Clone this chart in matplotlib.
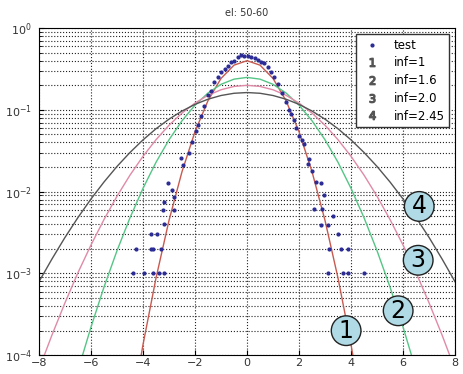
import matplotlib
matplotlib.use('Agg')
import matplotlib.pyplot as plt
from matplotlib.lines import Line2D

# measured test points
test_x = [-4.38, -3.96, -3.6, -3.4, -3.2, -4.27, -3.7, -3.6, -3.3, -3.7, -3.46,
          -3.19, -3.23, -2.8, -3.2, -2.8, -2.9, -3.04, -2.46, -2.54, -2.23,
          -2.1, -1.96, -1.9, -1.77, -1.65, -1.5, -1.38, -1.27, -1.1, -1.0,
          -0.85, -0.73, -0.6, -0.5, -0.35, -0.23, -0.1, 0.04, 0.15, 0.3, 0.42,
          0.55, 0.65, 0.8, 0.92, 1.05, 1.2, 1.35, 1.5, 1.6, 1.7, 1.8, 1.88,
          2.0, 2.1, 2.2, 2.35, 2.4, 2.5, 2.65, 2.85, 2.96, 2.58, 2.9, 3.3,
          2.85, 3.1, 3.5, 3.15, 3.6, 3.9, 3.1, 3.7, 3.9, 4.5]
test_y = [1e-3, 1e-3, 1e-3, 1e-3, 1e-3, 2e-3, 2e-3, 2e-3, 2e-3, 3e-3, 3e-3,
          4e-3, 6e-3, 6e-3, 7.5e-3, 8.7e-3, 1.05e-2, 1.26e-2, 2.1e-2, 2.6e-2, 3.0e-2,
          4.0e-2, 5.5e-2, 6.5e-2, 8.5e-2, 0.11, 0.15, 0.17, 0.22, 0.25, 0.29,
          0.32, 0.34, 0.39, 0.40, 0.44, 0.47, 0.46, 0.45, 0.44, 0.43, 0.41,
          0.39, 0.37, 0.33, 0.29, 0.25, 0.21, 0.16, 0.125, 0.10, 0.09, 0.075, 0.06,
          0.048, 0.043, 0.038, 0.022, 0.025, 0.018, 0.013, 0.0126, 0.009, 0.0062, 0.0062, 0.005,
          0.0039, 0.0039, 0.003, 0.002, 0.002, 0.002, 1e-3, 1e-3, 1e-3, 1e-3]

# fitted curves, values read at 0.5 steps
cx1 = [-4.5, -4.0, -3.5, -3.0, -2.5, -2.0, -1.5, -1.0, -0.5, 0.0,
       0.5, 1.0, 1.5, 2.0, 2.5, 3.0, 3.5, 4.0, 4.5]
cy1 = [1.6e-5, 1.34e-4, 8.73e-4, 4.43e-3, 0.0175, 0.054, 0.1295, 0.242, 0.352, 0.399,
       0.352, 0.242, 0.1295, 0.054, 0.0175, 4.43e-3, 8.73e-4, 1.34e-4, 1.6e-5]

cx2 = [-7.0, -6.5, -6.0, -5.5, -5.0, -4.5, -4.0, -3.5, -3.0, -2.5, -2.0, -1.5, -1.0, -0.5, 0.0,
       0.5, 1.0, 1.5, 2.0, 2.5, 3.0, 3.5, 4.0, 4.5, 5.0, 5.5, 6.0, 6.5, 7.0]
cy2 = [1.7e-5, 6.5e-5, 2.2e-4, 6.78e-4, 1.89e-3, 4.78e-3, 0.01095, 0.0228, 0.043, 0.0735,
       0.1141, 0.1607, 0.2051, 0.2374, 0.2493,
       0.2374, 0.2051, 0.1607, 0.1141, 0.0735, 0.043, 0.0228, 0.01095, 4.78e-3,
       1.89e-3, 6.78e-4, 2.2e-4, 6.5e-5, 1.7e-5]

cx3 = [-8.0, -7.5, -7.0, -6.5, -6.0, -5.5, -5.0, -4.5, -4.0, -3.5, -3.0, -2.5, -2.0, -1.5, -1.0, -0.5, 0.0,
       0.5, 1.0, 1.5, 2.0, 2.5, 3.0, 3.5, 4.0, 4.5, 5.0, 5.5, 6.0, 6.5, 7.0, 7.5, 8.0]
cy3 = [6.7e-5, 1.76e-4, 4.36e-4, 1.02e-3, 2.22e-3, 4.55e-3, 8.77e-3, 0.0159, 0.027, 0.0431,
       0.0648, 0.0913, 0.121, 0.1506, 0.176, 0.1933, 0.1995,
       0.1933, 0.176, 0.1506, 0.121, 0.0913, 0.0648, 0.0431, 0.027, 0.0159,
       8.77e-3, 4.55e-3, 2.22e-3, 1.02e-3, 4.36e-4, 1.76e-4, 6.7e-5]

cx4 = cx3
cy4 = [7.9e-4, 1.5e-3, 2.75e-3, 4.82e-3, 8.12e-3, 0.0131, 0.0203, 0.0301, 0.0429, 0.0587,
       0.0769, 0.0967, 0.1167, 0.135, 0.1498, 0.1595, 0.1628,
       0.1595, 0.1498, 0.135, 0.1167, 0.0967, 0.0769, 0.0587, 0.0429, 0.0301,
       0.0203, 0.0131, 8.12e-3, 4.82e-3, 2.75e-3, 1.5e-3, 7.9e-4]

labels = ['test', 'inf=1', 'inf=1.6', 'inf=2.0', 'inf=2.45']
colors = ['#c85a50', '#55c585', '#e08aa8', '#555555']

# circled number tags
tag_text = ['1', '2', '3', '4']
tag_x = [3.81, 5.81, 6.58, 6.62]
tag_y = [2.0e-4, 3.5e-4, 1.45e-3, 6.6e-3]

fig = plt.figure(figsize=(4.63, 3.74), dpi=100)
ax = fig.add_axes([0.084, 0.05, 0.899, 0.875])

curves = [(cx1, cy1), (cx2, cy2), (cx3, cy3), (cx4, cy4)]
for (xs, ys), c in zip(curves, colors):
    ax.plot(xs, ys, color=c, lw=1.0)
ax.plot(test_x, test_y, '.', color='#2b2b95', ms=4)

ax.set_yscale('log')
ax.set_xlim(-8, 8)
ax.set_ylim(1e-4, 1)
ax.set_xticks(range(-8, 9, 2))
ax.grid(True, which='major', ls=':', color='#222222', lw=0.8)
ax.grid(True, which='minor', axis='y', ls=':', color='#222222', lw=0.8)
ax.tick_params(direction='in', labelsize=8, labelcolor='#333333', which='both')
ax.tick_params(axis='x', pad=2)
ax.tick_params(axis='y', pad=5)
ax.set_title('el: 50-60', fontsize=7, color='#333333', pad=9)

for t, x, y in zip(tag_text, tag_x, tag_y):
    ax.text(x, y, t, fontsize=17, ha='center', va='center',
            bbox=dict(boxstyle='circle,pad=0.12', fc='#b0dbe6', ec='#222222', lw=1))

handles = [Line2D([], [], ls='none', marker='.', color='#2b2b95', ms=4)]
for t in tag_text:
    handles.append(Line2D([], [], ls='none', marker='$' + t + '$', color='#555555', ms=6))
ax.legend(handles, labels, loc='upper right', fontsize=8.5, fancybox=False,
          edgecolor='#333333', framealpha=1, handletextpad=0.8,
          borderaxespad=0.5, labelspacing=0.4)

fig.savefig('out.png', dpi=100)
